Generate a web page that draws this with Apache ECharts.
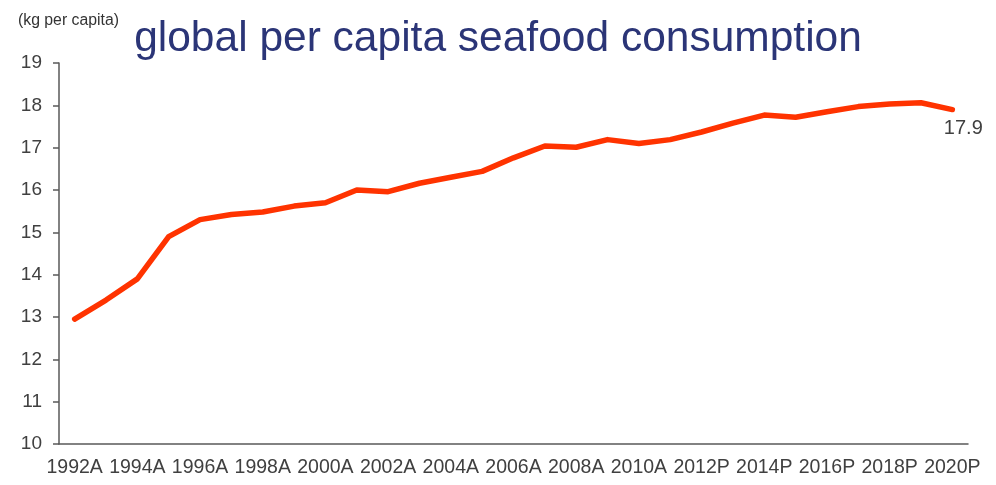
<!DOCTYPE html>
<html lang="en">
<head>
	<meta charset="utf-8">
	<title>global per capita seafood consumption</title>
	<script src="https://cdn.jsdelivr.net/npm/echarts@6/dist/echarts.min.js"></script>
</head>
<style>
	html,body{width: 100%; height: 100%; padding: 0; margin: 0; overflow: hidden; background: #fff;}
	.main{width: 996px; height: 485px;}
</style>
<body>
	<div id="main" class="main"></div>
</body>
<script type="text/javascript">
	// years, A = actual, P = projection
	var years = ['1992A','1993A','1994A','1995A','1996A','1997A','1998A','1999A','2000A','2001A',
		'2002A','2003A','2004A','2005A','2006A','2007A','2008A','2009A','2010A','2011A',
		'2012P','2013P','2014P','2015P','2016P','2017P','2018P','2019P','2020P'];
	// kg per capita
	var consumption = [12.95, 13.4, 13.9, 14.9, 15.3, 15.42, 15.48, 15.62, 15.7, 16.0,
		15.96, 16.16, 16.3, 16.44, 16.76, 17.04, 17.01, 17.19, 17.1, 17.19,
		17.37, 17.58, 17.77, 17.72, 17.85, 17.97, 18.03, 18.06, 17.9];
	var yTicks = {min: 10, max: 19, interval: 1};

	var font = 'Liberation Sans, Arial, sans-serif';
	var axisColor = '#595959';
	var textColor = '#404040';

	// only the last point gets a value label
	var lineData = consumption.map(function (v, i) {
		if (i == consumption.length - 1) {
			return {
				value: v,
				label: {
					show: true,
					position: 'bottom',
					distance: 9,
					offset: [11, 0],
					formatter: function (p) { return p.value.toFixed(1); },
					fontFamily: font,
					fontSize: 20,
					color: textColor
				}
			};
		}
		return v;
	});

	var myChart = echarts.init(document.getElementById('main'));
	var option = {
		animation: false,
		title: [{
			text: 'global per capita seafood consumption',
			left: 'center',
			top: 13,
			textStyle: {fontFamily: font, fontSize: 42.5, fontWeight: 'normal', color: '#2b3577'}
		}, {
			text: '(kg per capita)',
			left: 13,
			top: 8,
			textStyle: {fontFamily: font, fontSize: 15.8, fontWeight: 'normal', color: '#333'}
		}],
		grid: {left: 59, right: 28, top: 63, bottom: 41},
		xAxis: {
			type: 'category',
			data: years,
			boundaryGap: true,
			axisLine: {lineStyle: {color: axisColor, width: 1.5}},
			axisTick: {interval: 0, length: 6, lineStyle: {color: axisColor, width: 1.5}},
			axisLabel: {interval: 1, margin: 14, fontFamily: font, fontSize: 19.5, color: textColor}
		},
		yAxis: {
			type: 'value',
			min: yTicks.min,
			max: yTicks.max,
			interval: yTicks.interval,
			splitLine: {show: false},
			axisLine: {show: true, lineStyle: {color: axisColor, width: 1.5}},
			axisTick: {show: true, length: 6, lineStyle: {color: axisColor, width: 1.5}},
			axisLabel: {margin: 17, fontFamily: font, fontSize: 19, color: textColor}
		},
		series: [{
			type: 'line',
			data: lineData,
			showSymbol: true,
			symbol: 'circle',
			symbolSize: 0,
			lineStyle: {color: '#ff3300', width: 5.5, cap: 'round', join: 'round'}
		}]
	};
	myChart.setOption(option);
</script>
</html>
